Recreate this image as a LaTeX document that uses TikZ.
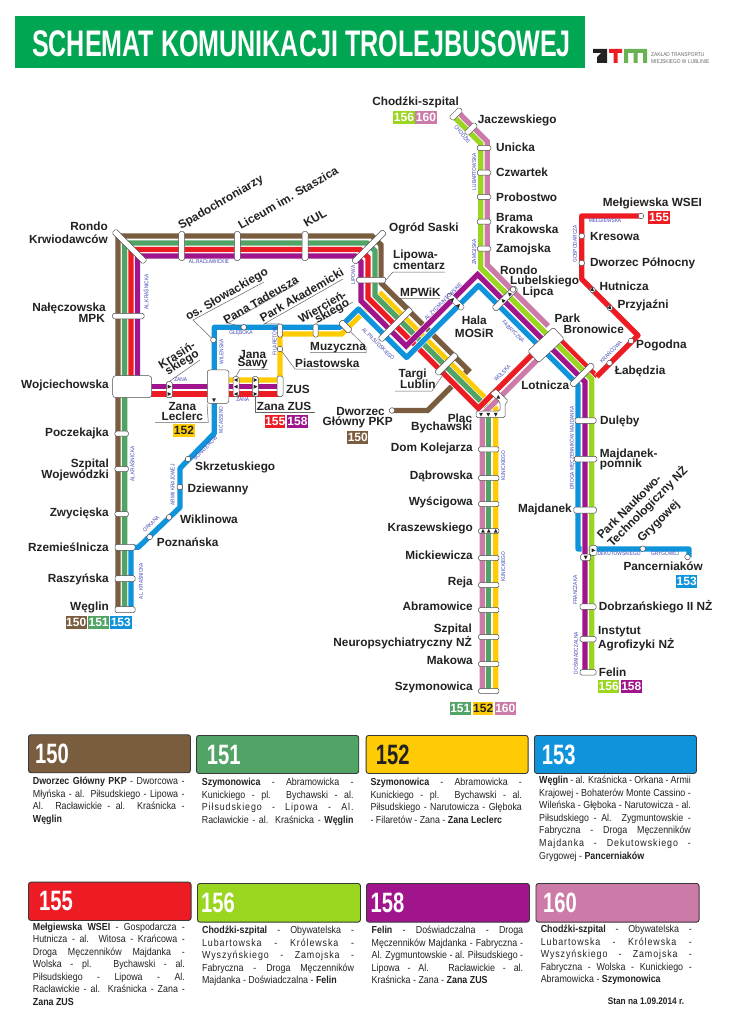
\documentclass[tikz,border=0pt]{standalone}
\usepackage{fontspec}
\setmainfont{Liberation Sans}
\newfontfamily\titlef[FakeStretch=0.678]{Liberation Sans}
\newfontfamily\numf[FakeStretch=0.72]{Liberation Sans}
\newfontfamily\descf[FakeStretch=0.87]{Liberation Sans}
\newfontfamily\descs[FakeStretch=0.87,LetterSpace=9]{Liberation Sans}
\newfontfamily\strf[FakeStretch=0.86]{Liberation Sans}
\definecolor{cbrown}{HTML}{7A5C3E}
\definecolor{cgreen}{HTML}{52A366}
\definecolor{cred}{HTML}{ED1C24}
\definecolor{cpurple}{HTML}{A0148C}
\definecolor{cyellow}{HTML}{FFCB05}
\definecolor{cblue}{HTML}{0F94DC}
\definecolor{clime}{HTML}{9AD51F}
\definecolor{cpink}{HTML}{CC7AA8}
\definecolor{ctitle}{HTML}{00A651}
\definecolor{cstreet}{HTML}{3F45B5}
\definecolor{cdark}{HTML}{222222}
\newcount\nodecnt
\tikzset{
 autoname/.code={\global\advance\nodecnt by 1\relax\tikzset{name=t\the\nodecnt}},
 stopbox/.style={draw=cdark!80,fill=white,line width=.5pt,rounded corners=1.5pt,inner sep=0pt},
 cstop/.style={circle,draw=cdark!80,fill=white,line width=.5pt,inner sep=0pt,minimum size=5.6pt},
 leader/.style={draw=cdark!70,line width=.5pt},
 lbl/.style={autoname,font=\fontsize{11.8}{12}\selectfont\bfseries,text=cdark,inner sep=0pt},
 strt/.style={autoname,font=\strf\fontsize{5.6}{6}\selectfont,text=cstreet,inner sep=0pt},
 badge/.style={autoname,font=\fontsize{12}{12}\selectfont\bfseries,inner sep=0pt,text=white},
 descl/.style={autoname,anchor=base west,inner sep=0pt,font=\descf\fontsize{10.2}{12}\selectfont,text=cdark},
 panel/.style={autoname,draw=cdark!90,line width=.9pt,rounded corners=2.5pt,inner sep=0pt},
 paneln/.style={autoname,font=\numf\fontsize{28}{28}\selectfont\bfseries,text=white,inner sep=0pt,anchor=west},
}
\newcommand{\route}[3][miter]{%
 \draw[white,line width=6.7pt,line join=#1] #3;
 \draw[#2,line width=5.3pt,line join=#1] #3;}
% stop box: name,x,y,length,thick,rot
\newcommand{\stn}[6]{\node[stopbox,minimum width=#4pt,minimum height=#5pt,rotate=#6] (#1) at (#2,#3) {};}
\newcommand{\cst}[3]{\node[cstop] (#1) at (#2,#3) {};}
\newcommand{\tri}[3]{\fill[cdark,shift={(#1,#2)},rotate=#3] (2.1,0)--(-1.6,1.9)--(-1.6,-1.9)--cycle;}
\newcommand{\labl}[4][]{\node[lbl,#1] at (#2,#3) {#4};}
\newcommand{\lbw}[3]{\node[lbl,anchor=west] at (#1,#2) {#3};}
\newcommand{\lbe}[3]{\node[lbl,anchor=east] at (#1,#2) {#3};}
\newcommand{\rl}[4]{\node[lbl,rotate=#3] at (#1,#2) {#4};}
\newcommand{\strn}[4]{\node[strt,rotate=#3] at (#1,#2) {#4};}
\newcommand{\bdg}[6][white]{\node[badge,text=#1,fill=#5,minimum width=#4pt,minimum height=13pt] at (#2,#3) {#6};}
\newcommand{\djl}[4]{\node[descl] at (#1,#2) {\makebox[#3pt][s]{#4}};}
\newcommand{\dls}[4]{\node[descl] at (#1,#2) {\descs\makebox[#3pt][s]{#4}};}
\newcommand{\dll}[3]{\node[descl] at (#1,#2) {#3};}
\newcommand{\pnl}[7][white]{% text color, x1,y1,x2,y2,col,num
 \node[panel,fill=#6,minimum width=#4pt-#2pt,minimum height=#5pt-#3pt,anchor=north west] at (#2,#3) {};
 \def\pnly{#3/2+#5/2+0.5}\def\pnlnum{#7}\def\pnlcol{#1}\pnlfin}
\newcommand{\pnlfin}[1]{\node[paneln,text=\pnlcol] at (#1,\pnly) {\pnlnum};}
\begin{document}
\begin{tikzpicture}[x=1pt,y=-1pt]
\useasboundingbox (0,0) rectangle (730,1024);
\fill[white] (0,0) rectangle (730,1024);
% title
\node[autoname,fill=ctitle,minimum width=570pt,minimum height=52pt,inner sep=0pt] at (300,42) {};
\node[autoname,font=\titlef\fontsize{37}{37}\selectfont\bfseries,text=white,inner sep=0pt] at (301.5,43.5) {SCHEMAT KOMUNIKACJI TROLEJBUSOWEJ};
% logo
\fill[cdark] (593,49)--(607,49)--(607,63)--(597,63)--(597,57)--(601,53)--(593,53)--cycle;
\fill[cred] (609,49) rectangle (622,53) (613.5,53) rectangle (617.5,63);
\fill[cgreen!70!clime] (624,49) rectangle (647,53) (624,53) rectangle (628,63) (633.5,53) rectangle (637.5,63) (643,53) rectangle (647,63);
\node[autoname,anchor=west,inner sep=0pt,align=left,text=black!60,font=\strf\fontsize{5.6}{7}\selectfont] at (651,58.5) {ZAKŁAD TRANSPORTU\\MIEJSKIEGO W LUBLINIE};
% routes
\route{cbrown}{(118,610)--(118,236)--(372,236)--(381,245)--(381,283)--(468,370)--(427.5,410.5)--(392,410.5)}
\route{cyellow}{(228,380)--(280,380)--(280,334)--(341.7,334)--(381.35,294.35)--(495.7,408.7)--(495.7,691)}
\route{cgreen}{(124.6,610)--(124.6,243)--(367,243)--(375,251)--(375,295.5)--(488.3,408.8)--(488.3,691)}
\route{cpink}{(460,114)--(487.3,141.4)--(487.3,265)--(548,326)}
\route{cpink}{(545,352)--(482.3,414.7)--(482.3,691)}
\route{cred}{(131,386)--(131,249.5)--(360,249.5)--(368,257.5)--(368,298)--(478.3,408.3)--(540,346.6)}
\route{cred}{(150,394)--(280,394)}
\route{cred}{(552,332)--(596.7,376.7)}
\route[round]{cblue}{(131,610)--(131,547.3)--(138.3,547.3)--(180,507.3)--(180,468.3)--(214.3,433.3)--(214.3,327.3)--(340,327.3)--(358.5,309)--(406.5,357.5)--(478.5,285.5)--(578,385)--(578,549)--(689,549)--(689,557)}
\route{clime}{(455,118)--(480.7,143.7)--(480.7,268)--(591.7,379)--(591.7,672)}
\route{cpurple}{(137.5,386)--(137.5,256)--(355,256)--(361,262)--(361,301)--(406,346)--(477.5,274.5)--(585,382)--(585,672)}
\route{cpurple}{(150,386.7)--(280,386.7)}
\route[round]{cred}{(596.7,376.7)--(638,335.4)--(581.7,279)--(581.7,216)--(641,216)}
% stops left and top
\stn{rondo}{129.5}{246.5}{44}{6}{-45}
\stn{nal}{128.3}{316}{31.5}{5.5}{0}
\node[stopbox,minimum width=39pt,minimum height=22pt,rounded corners=3pt] (wojc) at (132.2,386.7) {};
\stn{spad}{181.7}{246}{28.5}{6}{90}
\stn{lic}{237.3}{246}{28.5}{6}{90}
\stn{kul}{305}{246}{28.5}{6}{90}
\stn{saski}{369}{247}{44}{6}{45}
\stn{lipc}{371.2}{280}{29}{5.5}{0}
\stn{pocz}{121.7}{433.7}{13.5}{5}{0}
\stn{woje}{121.7}{469}{13.5}{5}{0}
\stn{zwyc}{121.7}{514}{13.5}{5}{0}
\stn{rzem}{125}{547.3}{20}{6}{0}
\stn{rasz}{125}{578.7}{20}{6}{0}
\stn{wegl}{125}{609.7}{20}{6}{0}
\cst{skrz}{188}{459}
\cst{dzie}{179.8}{487}
\cst{wikl}{169}{517.3}
\cst{pozn}{149.7}{537}
\cst{slow}{213.4}{340}
\cst{gleb}{243.7}{327.3}
\stn{fila}{280}{330.5}{13}{5}{90}
\stn{wier}{315.7}{330.5}{13}{5}{90}
\stn{muzy}{345.3}{326.5}{14}{6}{-45}
\cst{pias}{280}{349}
\stn{zus}{280}{386.3}{20.5}{6}{90}
\node[stopbox,minimum width=21.5pt,minimum height=33.5pt,rounded corners=2.5pt] (lecl) at (218,386.7) {};
\tri{214}{400}{-90}
\stn{kras}{169.3}{389.7}{16}{6}{90}
\tri{169.3}{386.7}{0}
\tri{169.3}{394}{0}
\stn{sawy}{236}{386.7}{20}{6}{90}
\tri{236}{380}{180}
\tri{236}{386.7}{180}
\tri{236}{394}{180}
\stn{zzus}{255.3}{386.7}{20}{6}{90}
\tri{255.3}{380}{0}
\tri{255.3}{386.7}{0}
\tri{255.3}{394}{0}
% central stops
\stn{mpw}{395.4}{324.5}{44}{6}{45}
\stn{targ}{446.4}{364}{28}{6}{45}
\stn{zygm}{455.5}{301.5}{21}{5.5}{-45}
\tri{452.5}{299.5}{45}
\tri{458.5}{305.5}{45}
\stn{lubl}{505}{298.5}{31}{6}{45}
\tri{503}{300.5}{135}
\tri{509.5}{294}{135}
\node[stopbox,minimum width=35pt,minimum height=16pt,rotate=43] (park) at (546,345) {};
\stn{lotn}{582.2}{375}{30}{6}{45}
\cst{lipca}{513}{289.5}
% chodzki
\stn{chod}{456}{114}{14}{5.5}{45}
\stn{jacz}{471}{129}{14}{5.5}{45}
\stn{unic}{484}{148}{13.5}{5}{0}
\stn{czwa}{484}{172.7}{13.5}{5}{0}
\stn{prob}{484}{197}{13.5}{5}{0}
\stn{bram}{484}{221.7}{13.5}{5}{0}
\stn{zamo}{484}{248.7}{13.5}{5}{0}
% 155
\cst{melg}{641}{216}
\cst{kres}{581.7}{236}
\cst{dwop}{581.7}{263}
\cst{hutn}{592.5}{290}
\tri{592.5}{290}{-45}
\cst{przy}{610}{308}
\tri{610}{308}{-45}
\cst{pogo}{631}{341}
\cst{labe}{609.5}{363}
% right vertical
\stn{dule}{585.5}{420.5}{21}{5.5}{0}
\stn{majp}{585.5}{459}{22.5}{5.5}{0}
\stn{majd}{585}{510}{22.5}{6}{0}
\node[stopbox,minimum width=7pt,minimum height=10pt] (parkn) at (593.3,550.3) {};
\tri{593.3}{550.3}{0}
\node[stopbox,minimum width=10pt,minimum height=6.5pt] (parkd) at (585.7,557.3) {};
\tri{585.7}{557.3}{-90}
\cst{gryg}{642.7}{548.7}
\cst{panc}{687.5}{557}
\stn{dobr}{588}{606.7}{16}{5.5}{0}
\stn{inst}{588}{639}{16}{5.5}{0}
\stn{feli}{588}{672.3}{16}{5.5}{0}
% bottom vertical
\stn{domk}{488.7}{449.3}{20.5}{5}{0}
\stn{dabr}{488.7}{478}{20.5}{5}{0}
\stn{wysc}{488.7}{504}{20.5}{5}{0}
\stn{kras2}{488.7}{531}{20.5}{5}{0}
\tri{483}{531}{90}
\tri{488.7}{531}{90}
\tri{495.7}{531}{90}
\stn{mick}{488.7}{558}{20.5}{5}{0}
\stn{reja}{488.7}{585}{20.5}{5}{0}
\stn{abra}{488.7}{610}{20.5}{5}{0}
\stn{szpn}{488.7}{637}{20.5}{5}{0}
\stn{mako}{488.7}{664}{20.5}{5}{0}
\stn{szym}{488.7}{691}{20.5}{5}{0}
\cst{dwgl}{392}{410.5}
% plac bychawski
\draw[stopbox] (490,393.5)--(496,389)--(508.3,401)--(505,404)--(505,417.5)--(476,417.5)--(476,411)--(500,411)--(500,402)--cycle;
\tri{498.3}{397}{90}
\tri{481}{414.5}{-90}
\tri{488.3}{414.5}{-90}
\tri{495.7}{414.5}{-90}
% leaders
\coordinate (a1) at (193,320); \coordinate (a2) at (264,282);
\draw[leader] (slow)--(a1)--(a2);
\coordinate (b1) at (228,323); \coordinate (b2) at (298,283);
\draw[leader] (gleb)--(b1)--(b2);
\coordinate (c1) at (264,324); \coordinate (c2) at (343,279);
\draw[leader] (fila.east)--(c1)--(c2);
\coordinate (d1) at (353,302);
\draw[leader] (wier.east)--(d1);
\coordinate (e1) at (366,347); \coordinate (e2) at (366,352.7); \coordinate (e3) at (310,352.7);
\draw[leader] (muzy.east)--(e1)--(e2)--(e3);
\coordinate (f1) at (295,369); \coordinate (f2) at (358,369);
\draw[leader] (pias)--(f1)--(f2);
\coordinate (g1) at (240,369.3); \coordinate (g2) at (268,369.3);
\draw[leader] (sawy.east)--(g1)--(g2);
\coordinate (h1) at (255.3,412.7); \coordinate (h2) at (315,412.7);
\draw[leader] (zzus.west)--(h1)--(h2);
\coordinate (i1) at (208.3,422.3); \coordinate (i2) at (155,422.3);
\draw[leader] (lecl.south west)--(i1)--(i2);
\coordinate (j1) at (200,360);
\draw[leader] (kras.east)--(j1);
\coordinate (k1) at (393,272); \coordinate (k2) at (445,272);
\draw[leader] (lipc.east)--(k1)--(k2);
\coordinate (l1) at (400,298.3); \coordinate (l2) at (440,298.3);
\draw[leader] (mpw.east)--(l1)--(l2);
\coordinate (m1) at (432,391); \coordinate (m2) at (395,391);
\draw[leader] (targ.south)--(m1)--(m2);
% labels
\lbe{459}{102.5}{Chodźki-szpital}
\lbw{477.7}{120.7}{Jaczewskiego}
\lbw{496}{147}{Unicka}
\lbw{496}{172.5}{Czwartek}
\lbw{496}{197.7}{Probostwo}
\lbw{496}{217}{Brama}
\lbw{496}{229}{Krakowska}
\lbw{496}{249}{Zamojska}
\lbw{500}{270}{Rondo}
\lbw{510}{281}{Lubelskiego}
\lbw{522.5}{292}{Lipca}
\lbw{389}{228}{Ogród Saski}
\lbw{393}{255.7}{Lipowa-}
\lbw{393}{265.7}{cmentarz}
\lbw{400}{292.7}{MPWiK}
\labl{474.3}{320.7}{Hala}
\labl{474.3}{333}{MOSiR}
\lbw{398.5}{374}{Targi}
\lbw{400}{384}{Lublin}
\lbe{385}{411}{Dworzec}
\lbe{393}{422}{Główny PKP}
\lbe{472.3}{418}{Plac}
\lbe{472.3}{427.3}{Bychawski}
\lbe{473}{448.3}{Dom Kolejarza}
\lbe{473}{476}{Dąbrowska}
\lbe{473}{502.3}{Wyścigowa}
\lbe{473}{528.3}{Kraszewskiego}
\lbe{473}{555.3}{Mickiewicza}
\lbe{473}{582.7}{Reja}
\lbe{473}{606.3}{Abramowice}
\lbe{472}{629}{Szpital}
\lbe{472}{643}{Neuropsychiatryczny NŻ}
\lbe{473}{660}{Makowa}
\lbe{473}{687.3}{Szymonowica}
\lbe{569.3}{385.7}{Lotnicza}
\lbw{554.3}{318.3}{Park}
\lbw{563.3}{329}{Bronowice}
\lbw{602.7}{203.3}{Mełgiewska WSEI}
\lbw{590}{236}{Kresowa}
\lbw{590}{263.3}{Dworzec Północny}
\lbw{599.3}{286}{Hutnicza}
\lbw{617.3}{305}{Przyjaźni}
\lbw{636}{345.7}{Pogodna}
\lbw{614.7}{371.7}{Łabędzia}
\lbw{600}{421}{Dulęby}
\lbw{599.7}{454}{Majdanek-}
\lbw{599.7}{464}{pomnik}
\lbe{572}{509}{Majdanek}
\rl{629}{506.7}{45}{Park Naukowo-}
\rl{647.5}{507}{45}{Technologiczny NŻ}
\rl{659}{521.7}{45}{Grygowej}
\lbw{623.3}{566.7}{Pancerniaków}
\lbw{598.7}{606.7}{Dobrzańskiego II NŻ}
\lbw{598}{631.7}{Instytut}
\lbw{598}{645}{Agrofizyki NŻ}
\lbw{598.7}{672}{Felin}
\lbe{108}{226}{Rondo}
\lbe{108}{239.5}{Krwiodawców}
\lbe{106}{308.7}{Nałęczowska}
\lbe{105}{318.7}{MPK}
\lbe{109}{385.5}{Wojciechowska}
\lbe{109}{433}{Poczekajka}
\lbe{109}{464.7}{Szpital}
\lbe{109}{475}{Wojewódzki}
\lbe{109}{513.3}{Zwycięska}
\lbe{109}{547}{Rzemieślnicza}
\lbe{109}{579}{Raszyńska}
\lbe{109}{607}{Węglin}
\lbw{195}{467}{Skrzetuskiego}
\lbw{187.3}{489}{Dziewanny}
\lbw{180}{519}{Wiklinowa}
\lbw{156.7}{542}{Poznańska}
\labl{182.3}{406.7}{Zana}
\labl{182.3}{416}{Leclerc}
\rl{176.7}{355}{32}{Krasiń-}
\rl{182.3}{363}{32}{skiego}
\labl{252.7}{354}{Jana}
\labl{252.7}{363.3}{Sawy}
\lbw{286}{389}{ZUS}
\lbw{256.7}{406.7}{Zana ZUS}
\lbw{295}{363.7}{Piastowska}
\lbw{310}{347.3}{Muzyczna}
\rl{221}{203}{30}{Spadochroniarzy}
\rl{288}{198}{30}{Liceum im. Staszica}
\rl{315}{218}{30}{KUL}
\rl{227}{295}{30}{os. Słowackiego}
\rl{260.7}{300}{30}{Pana Tadeusza}
\rl{301.7}{295}{30}{Park Akademicki}
\rl{322.3}{306.7}{30}{Wiercień-}
\rl{332.3}{311.7}{30}{skiego}
% street names
\strn{209}{262}{0}{AL.RACŁAWICKIE}
\strn{146}{291.7}{90}{AL.KRAŚNICKA}
\strn{180.7}{380}{0}{ZANA}
\strn{242.7}{400}{0}{ZANA}
\strn{221}{351.7}{90}{WILEŃSKA}
\strn{241}{333.3}{0}{GŁĘBOKA}
\strn{274.3}{341}{90}{FILARETÓW}
\strn{221}{420}{90}{M.CASSINO}
\strn{205}{448}{45}{BOHATERÓW}
\strn{172.7}{485}{90}{ARMII KRAJOWEJ}
\strn{151}{524}{45}{ORKANA}
\strn{140.3}{581}{90}{AL. KRAŚNICKA}
\strn{132}{464}{90}{AL.KRAŚNICKA}
\strn{353.3}{275}{90}{LIPOWA}
\strn{378.3}{344}{-45}{AL.PIŁSUDSKIEGO}
\strn{443.3}{301.7}{45}{AL.ZYGMUNTOWSKIE}
\strn{513.3}{331.7}{-45}{FABRYCZNA}
\strn{502.3}{373.3}{45}{WOLSKA}
\strn{474.3}{252}{90}{ZAMOJSKA}
\strn{474.3}{171.7}{90}{LUBARTOWSKA}
\strn{462.7}{134}{-50}{CHODŹKI}
\strn{575}{244}{90}{GOSPODARCZA}
\strn{605}{220.7}{0}{MEŁGIEWSKA}
\strn{610.7}{351.7}{45}{KRAŃCOWA}
\strn{572}{448}{90}{DROGA MĘCZENNIKÓW MAJDANKA}
\strn{619}{553.3}{0}{DEKUTOWSKIEGO}
\strn{665}{553.3}{0}{GRYGOWEJ}
\strn{575.3}{590}{90}{FRANCZAKA}
\strn{575.3}{653}{90}{DOŚWIADCZALNA}
\strn{503.3}{465.7}{90}{KUNICKIEGO}
\strn{503.3}{566.7}{90}{KUNICKIEGO}
% badges
\bdg{404}{117.5}{21.5}{clime}{156}
\bdg{426}{117.5}{21.5}{cpink}{160}
\bdg{659}{217.3}{21.5}{cred}{155}
\bdg{686.7}{581.3}{21.5}{cblue}{153}
\bdg{608.7}{686.3}{21}{clime}{156}
\bdg{631.3}{686.3}{21}{cpurple}{158}
\bdg[cdark]{184}{430}{21.5}{cyellow}{152}
\bdg{275.2}{421.2}{20.5}{cred}{155}
\bdg{297.5}{421.2}{20.5}{cpurple}{158}
\bdg{357.8}{437.5}{21}{cbrown}{150}
\bdg{76.2}{622.3}{21}{cbrown}{150}
\bdg{98.6}{622.3}{21}{cgreen}{151}
\bdg{120.8}{622.3}{21.5}{cblue}{153}
\bdg{460.3}{708.8}{20.7}{cgreen}{151}
\bdg[cdark]{483.2}{708.8}{20}{cyellow}{152}
\bdg{505.3}{708.8}{20.7}{cpink}{160}
% panels
\pnl{28}{734.3}{190}{772.3}{cbrown}{150}{35}
\pnl{196}{735}{358.3}{773}{cgreen}{151}{206.7}
\pnl[cdark]{365.7}{735}{527.7}{773}{cyellow}{152}{375.7}
\pnl{534}{735}{696}{773}{cblue}{153}{541.7}
\pnl{28}{881.7}{190.6}{920}{cred}{155}{39}
\pnl{197}{883}{360}{921.7}{clime}{156}{201}
\pnl{366}{883}{529}{921.7}{cpurple}{158}{370.5}
\pnl{535.5}{883}{698.6}{921.7}{cpink}{160}{543}
% descriptions
\djl{32.7}{784.5}{151.6}{\textbf{Dworzec Główny PKP} - Dworcowa -}
\djl{32.7}{797}{151.6}{Młyńska -  al. Piłsudskiego - Lipowa -}
\djl{32.7}{809.6}{151.6}{Al. Racławickie - al. Kraśnicka -}
\dll{32.7}{822.2}{\textbf{Węglin}}
\djl{201.7}{785.5}{151.6}{\textbf{Szymonowica} - Abramowicka -}
\djl{201.7}{798}{151.6}{Kunickiego - pl. Bychawski - al.}
\dls{201.7}{810.6}{151.6}{Piłsudskiego - Lipowa - Al.}
\djl{201.7}{823.2}{151.6}{Racławickie - al. Kraśnicka - \textbf{Węglin}}
\djl{370.3}{785.5}{151.4}{\textbf{Szymonowica} - Abramowicka -}
\djl{370.3}{798}{151.4}{Kunickiego - pl. Bychawski - al.}
\djl{370.3}{810.6}{151.4}{Piłsudskiego - Narutowicza - Głęboka}
\dll{370.3}{823.2}{- Filaretów - Zana - \textbf{Zana Leclerc}}
\djl{539}{783.5}{151.7}{\textbf{Węglin} - al. Kraśnicka - Orkana - Armii}
\djl{539}{796}{151.7}{Krajowej - Bohaterów Monte Cassino -}
\djl{539}{808.6}{151.7}{Wileńska - Głęboka - Narutowicza - al.}
\djl{539}{821.2}{151.7}{Piłsudskiego - Al. Zygmuntowskie -}
\djl{539}{833.8}{151.7}{Fabryczna - Droga Męczenników}
\dls{539}{846.4}{151.7}{Majdanka - Dekutowskiego -}
\dll{539}{859}{Grygowej - \textbf{Pancerniaków}}
\djl{32.7}{930.2}{152}{\textbf{Mełgiewska WSEI} - Gospodarcza -}
\djl{32.7}{942.7}{152}{Hutnicza - al. Witosa - Krańcowa -}
\djl{32.7}{955.2}{152}{Droga Męczenników Majdanka -}
\djl{32.7}{967.7}{152}{Wolska - pl. Bychawski - al.}
\djl{32.7}{980.2}{152}{Piłsudskiego - Lipowa - Al.}
\djl{32.7}{992.7}{152}{Racławickie - al. Kraśnicka - Zana -}
\dll{32.7}{1005.2}{\textbf{Zana ZUS}}
\djl{201.9}{933.5}{152}{\textbf{Chodźki-szpital} - Obywatelska -}
\dls{201.9}{946}{152}{Lubartowska - Królewska -}
\dls{201.9}{958.5}{152}{Wyszyńskiego - Zamojska -}
\djl{201.9}{971}{152}{Fabryczna - Droga Męczenników}
\dll{201.9}{983.5}{Majdanka - Doświadczalna - \textbf{Felin}}
\djl{371.5}{933.5}{151.5}{\textbf{Felin} - Doświadczalna - Droga}
\djl{371.5}{946}{151.5}{Męczenników Majdanka - Fabryczna -}
\djl{371.5}{958.5}{151.5}{Al. Zygmuntowskie - al. Piłsudskiego -}
\djl{371.5}{971}{151.5}{Lipowa - Al. Racławickie - al.}
\dll{371.5}{983.5}{Kraśnicka - Zana - \textbf{Zana ZUS}}
\djl{540.6}{932.8}{151}{\textbf{Chodźki-szpital} - Obywatelska -}
\dls{540.6}{945.3}{151}{Lubartowska - Królewska -}
\dls{540.6}{957.8}{151}{Wyszyńskiego - Zamojska -}
\djl{540.6}{970.3}{151}{Fabryczna - Wolska - Kunickiego -}
\dll{540.6}{982.8}{Abramowicka - \textbf{Szymonowica}}
\node[autoname,inner sep=0pt,font=\descf\fontsize{9.5}{10}\selectfont\bfseries,text=cdark] at (646,1001) {Stan na 1.09.2014 r.};
\end{tikzpicture}
\end{document}
